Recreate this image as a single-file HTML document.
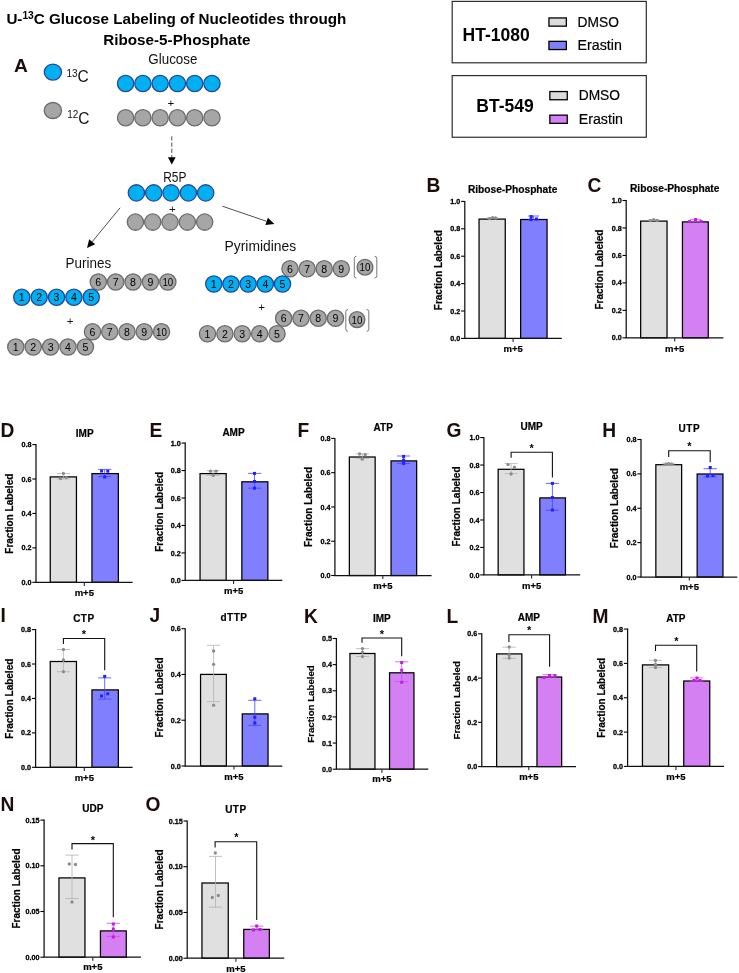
<!DOCTYPE html>
<html lang="en"><head><meta charset="utf-8"><title>U-13C Glucose Labeling of Nucleotides through Ribose-5-Phosphate</title>
<style>html,body{margin:0;padding:0;background:#fff}svg{display:block;will-change:transform}text{font-family:"Liberation Sans", Arial, sans-serif}</style></head><body>
<svg width="739" height="973" viewBox="0 0 739 973">
<rect width="739" height="973" fill="#ffffff"/>
<g id="panelA">
<text x="6.4" y="23.5" font-size="14.9" font-weight="bold" fill="#000" textLength="340" lengthAdjust="spacingAndGlyphs">U-<tspan font-size="10" dy="-4.3">13</tspan><tspan dy="4.3">C Glucose Labeling of Nucleotides through</tspan></text>
<text x="103.2" y="44.9" font-size="14.9" font-weight="bold" fill="#000" textLength="147.4" lengthAdjust="spacingAndGlyphs">Ribose-5-Phosphate</text>
<text x="14" y="71.6" font-size="18.4" font-weight="bold" text-anchor="start" fill="#1d0c0c" textLength="13.86" lengthAdjust="spacingAndGlyphs">A</text>
<ellipse cx="52.9" cy="72.1" rx="8.65" ry="8.0" fill="#00b0f0" stroke="#27479c" stroke-width="1.3"/>
<ellipse cx="52.9" cy="110.5" rx="8.65" ry="8.0" fill="#a6a6a6" stroke="#6c6c6c" stroke-width="1.3"/>
<text x="66.4" y="82.1" font-size="16.8" fill="#111111" textLength="22.3" lengthAdjust="spacingAndGlyphs"><tspan font-size="10.8" dy="-5.1">13</tspan><tspan dy="5.1">C</tspan></text>
<text x="67.2" y="123.5" font-size="16.8" fill="#111111" textLength="22.3" lengthAdjust="spacingAndGlyphs"><tspan font-size="10.8" dy="-5.1">12</tspan><tspan dy="5.1">C</tspan></text>
<text x="148.3" y="64.2" font-size="15" fill="#111111" textLength="49.2" lengthAdjust="spacingAndGlyphs">Glucose</text>
<circle cx="125.6" cy="83.5" r="8.15" fill="#00b0f0" stroke="#27479c" stroke-width="1.3"/>
<circle cx="142.87" cy="83.5" r="8.15" fill="#00b0f0" stroke="#27479c" stroke-width="1.3"/>
<circle cx="160.14" cy="83.5" r="8.15" fill="#00b0f0" stroke="#27479c" stroke-width="1.3"/>
<circle cx="177.41" cy="83.5" r="8.15" fill="#00b0f0" stroke="#27479c" stroke-width="1.3"/>
<circle cx="194.68" cy="83.5" r="8.15" fill="#00b0f0" stroke="#27479c" stroke-width="1.3"/>
<circle cx="211.95" cy="83.5" r="8.15" fill="#00b0f0" stroke="#27479c" stroke-width="1.3"/>
<text x="170.8" y="106.5" font-size="11.5" font-weight="normal" text-anchor="middle" fill="#111111" >+</text>
<circle cx="125.6" cy="117.8" r="8.15" fill="#a6a6a6" stroke="#6c6c6c" stroke-width="1.3"/>
<circle cx="142.87" cy="117.8" r="8.15" fill="#a6a6a6" stroke="#6c6c6c" stroke-width="1.3"/>
<circle cx="160.14" cy="117.8" r="8.15" fill="#a6a6a6" stroke="#6c6c6c" stroke-width="1.3"/>
<circle cx="177.41" cy="117.8" r="8.15" fill="#a6a6a6" stroke="#6c6c6c" stroke-width="1.3"/>
<circle cx="194.68" cy="117.8" r="8.15" fill="#a6a6a6" stroke="#6c6c6c" stroke-width="1.3"/>
<circle cx="211.95" cy="117.8" r="8.15" fill="#a6a6a6" stroke="#6c6c6c" stroke-width="1.3"/>
<path d="M171.8 136.3V157.6" stroke="#222" stroke-width="0.8" stroke-dasharray="4.2 2" fill="none"/>
<path d="M167.9 157.2H175.7L171.8 164.6Z" fill="#000"/>
<text x="163.2" y="181.5" font-size="15" fill="#111111" textLength="23.2" lengthAdjust="spacingAndGlyphs">R5P</text>
<circle cx="136.4" cy="192.9" r="8.15" fill="#00b0f0" stroke="#27479c" stroke-width="1.3"/>
<circle cx="153.72" cy="192.9" r="8.15" fill="#00b0f0" stroke="#27479c" stroke-width="1.3"/>
<circle cx="171.04" cy="192.9" r="8.15" fill="#00b0f0" stroke="#27479c" stroke-width="1.3"/>
<circle cx="188.36" cy="192.9" r="8.15" fill="#00b0f0" stroke="#27479c" stroke-width="1.3"/>
<circle cx="205.68" cy="192.9" r="8.15" fill="#00b0f0" stroke="#27479c" stroke-width="1.3"/>
<text x="172.4" y="212.7" font-size="11.5" font-weight="normal" text-anchor="middle" fill="#111111" >+</text>
<circle cx="135.4" cy="222.1" r="8.15" fill="#a6a6a6" stroke="#6c6c6c" stroke-width="1.3"/>
<circle cx="152.72" cy="222.1" r="8.15" fill="#a6a6a6" stroke="#6c6c6c" stroke-width="1.3"/>
<circle cx="170.04" cy="222.1" r="8.15" fill="#a6a6a6" stroke="#6c6c6c" stroke-width="1.3"/>
<circle cx="187.36" cy="222.1" r="8.15" fill="#a6a6a6" stroke="#6c6c6c" stroke-width="1.3"/>
<circle cx="204.68" cy="222.1" r="8.15" fill="#a6a6a6" stroke="#6c6c6c" stroke-width="1.3"/>
<path d="M120.1 207.8L92.2 241.76" stroke="#222" stroke-width="0.8" fill="none"/>
<path d="M87 248.1L89.19 239.29L95.22 244.24Z" fill="#000"/>
<path d="M222.4 206.2L266.64 221.34" stroke="#222" stroke-width="0.8" fill="none"/>
<path d="M274.4 224L265.38 225.03L267.9 217.65Z" fill="#000"/>
<text x="65.6" y="268.2" font-size="15" fill="#111111" textLength="45.6" lengthAdjust="spacingAndGlyphs">Purines</text>
<circle cx="98.3" cy="282" r="8.15" fill="#a6a6a6" stroke="#6c6c6c" stroke-width="1.3"/>
<text x="98.3" y="286" font-size="11.3" font-weight="normal" text-anchor="middle" fill="#000" textLength="5.9" lengthAdjust="spacingAndGlyphs">6</text>
<circle cx="115.68" cy="282" r="8.15" fill="#a6a6a6" stroke="#6c6c6c" stroke-width="1.3"/>
<text x="115.68" y="286" font-size="11.3" font-weight="normal" text-anchor="middle" fill="#000" textLength="5.9" lengthAdjust="spacingAndGlyphs">7</text>
<circle cx="133.06" cy="282" r="8.15" fill="#a6a6a6" stroke="#6c6c6c" stroke-width="1.3"/>
<text x="133.06" y="286" font-size="11.3" font-weight="normal" text-anchor="middle" fill="#000" textLength="5.9" lengthAdjust="spacingAndGlyphs">8</text>
<circle cx="150.44" cy="282" r="8.15" fill="#a6a6a6" stroke="#6c6c6c" stroke-width="1.3"/>
<text x="150.44" y="286" font-size="11.3" font-weight="normal" text-anchor="middle" fill="#000" textLength="5.9" lengthAdjust="spacingAndGlyphs">9</text>
<circle cx="167.82" cy="282" r="8.15" fill="#a6a6a6" stroke="#6c6c6c" stroke-width="1.3"/>
<text x="167.82" y="286" font-size="11.3" font-weight="normal" text-anchor="middle" fill="#000" textLength="10.8" lengthAdjust="spacingAndGlyphs">10</text>
<circle cx="21.8" cy="297.3" r="8.15" fill="#00b0f0" stroke="#27479c" stroke-width="1.3"/>
<text x="21.8" y="301.3" font-size="11.3" font-weight="normal" text-anchor="middle" fill="#000" textLength="5.9" lengthAdjust="spacingAndGlyphs">1</text>
<circle cx="39.16" cy="297.3" r="8.15" fill="#00b0f0" stroke="#27479c" stroke-width="1.3"/>
<text x="39.16" y="301.3" font-size="11.3" font-weight="normal" text-anchor="middle" fill="#000" textLength="5.9" lengthAdjust="spacingAndGlyphs">2</text>
<circle cx="56.52" cy="297.3" r="8.15" fill="#00b0f0" stroke="#27479c" stroke-width="1.3"/>
<text x="56.52" y="301.3" font-size="11.3" font-weight="normal" text-anchor="middle" fill="#000" textLength="5.9" lengthAdjust="spacingAndGlyphs">3</text>
<circle cx="73.88" cy="297.3" r="8.15" fill="#00b0f0" stroke="#27479c" stroke-width="1.3"/>
<text x="73.88" y="301.3" font-size="11.3" font-weight="normal" text-anchor="middle" fill="#000" textLength="5.9" lengthAdjust="spacingAndGlyphs">4</text>
<circle cx="91.24" cy="297.3" r="8.15" fill="#00b0f0" stroke="#27479c" stroke-width="1.3"/>
<text x="91.24" y="301.3" font-size="11.3" font-weight="normal" text-anchor="middle" fill="#000" textLength="5.9" lengthAdjust="spacingAndGlyphs">5</text>
<text x="70" y="324.8" font-size="11.5" font-weight="normal" text-anchor="middle" fill="#111111" >+</text>
<circle cx="92.5" cy="331.8" r="8.15" fill="#a6a6a6" stroke="#6c6c6c" stroke-width="1.3"/>
<text x="92.5" y="335.8" font-size="11.3" font-weight="normal" text-anchor="middle" fill="#000" textLength="5.9" lengthAdjust="spacingAndGlyphs">6</text>
<circle cx="109.75" cy="331.8" r="8.15" fill="#a6a6a6" stroke="#6c6c6c" stroke-width="1.3"/>
<text x="109.75" y="335.8" font-size="11.3" font-weight="normal" text-anchor="middle" fill="#000" textLength="5.9" lengthAdjust="spacingAndGlyphs">7</text>
<circle cx="127" cy="331.8" r="8.15" fill="#a6a6a6" stroke="#6c6c6c" stroke-width="1.3"/>
<text x="127" y="335.8" font-size="11.3" font-weight="normal" text-anchor="middle" fill="#000" textLength="5.9" lengthAdjust="spacingAndGlyphs">8</text>
<circle cx="144.25" cy="331.8" r="8.15" fill="#a6a6a6" stroke="#6c6c6c" stroke-width="1.3"/>
<text x="144.25" y="335.8" font-size="11.3" font-weight="normal" text-anchor="middle" fill="#000" textLength="5.9" lengthAdjust="spacingAndGlyphs">9</text>
<circle cx="161.5" cy="331.8" r="8.15" fill="#a6a6a6" stroke="#6c6c6c" stroke-width="1.3"/>
<text x="161.5" y="335.8" font-size="11.3" font-weight="normal" text-anchor="middle" fill="#000" textLength="10.8" lengthAdjust="spacingAndGlyphs">10</text>
<circle cx="15.8" cy="347" r="8.15" fill="#a6a6a6" stroke="#6c6c6c" stroke-width="1.3"/>
<text x="15.8" y="351" font-size="11.3" font-weight="normal" text-anchor="middle" fill="#000" textLength="5.9" lengthAdjust="spacingAndGlyphs">1</text>
<circle cx="33.2" cy="347" r="8.15" fill="#a6a6a6" stroke="#6c6c6c" stroke-width="1.3"/>
<text x="33.2" y="351" font-size="11.3" font-weight="normal" text-anchor="middle" fill="#000" textLength="5.9" lengthAdjust="spacingAndGlyphs">2</text>
<circle cx="50.6" cy="347" r="8.15" fill="#a6a6a6" stroke="#6c6c6c" stroke-width="1.3"/>
<text x="50.6" y="351" font-size="11.3" font-weight="normal" text-anchor="middle" fill="#000" textLength="5.9" lengthAdjust="spacingAndGlyphs">3</text>
<circle cx="68" cy="347" r="8.15" fill="#a6a6a6" stroke="#6c6c6c" stroke-width="1.3"/>
<text x="68" y="351" font-size="11.3" font-weight="normal" text-anchor="middle" fill="#000" textLength="5.9" lengthAdjust="spacingAndGlyphs">4</text>
<circle cx="85.4" cy="347" r="8.15" fill="#a6a6a6" stroke="#6c6c6c" stroke-width="1.3"/>
<text x="85.4" y="351" font-size="11.3" font-weight="normal" text-anchor="middle" fill="#000" textLength="5.9" lengthAdjust="spacingAndGlyphs">5</text>
<text x="224.6" y="250.8" font-size="15" fill="#111111" textLength="71.6" lengthAdjust="spacingAndGlyphs">Pyrimidines</text>
<circle cx="290" cy="268.8" r="8.15" fill="#a6a6a6" stroke="#6c6c6c" stroke-width="1.3"/>
<text x="290" y="272.8" font-size="11.3" font-weight="normal" text-anchor="middle" fill="#000" textLength="5.9" lengthAdjust="spacingAndGlyphs">6</text>
<circle cx="307.1" cy="268.8" r="8.15" fill="#a6a6a6" stroke="#6c6c6c" stroke-width="1.3"/>
<text x="307.1" y="272.8" font-size="11.3" font-weight="normal" text-anchor="middle" fill="#000" textLength="5.9" lengthAdjust="spacingAndGlyphs">7</text>
<circle cx="324.2" cy="268.8" r="8.15" fill="#a6a6a6" stroke="#6c6c6c" stroke-width="1.3"/>
<text x="324.2" y="272.8" font-size="11.3" font-weight="normal" text-anchor="middle" fill="#000" textLength="5.9" lengthAdjust="spacingAndGlyphs">8</text>
<circle cx="341.3" cy="268.8" r="8.15" fill="#a6a6a6" stroke="#6c6c6c" stroke-width="1.3"/>
<text x="341.3" y="272.8" font-size="11.3" font-weight="normal" text-anchor="middle" fill="#000" textLength="5.9" lengthAdjust="spacingAndGlyphs">9</text>
<circle cx="365" cy="267.2" r="7.9" fill="#a6a6a6" stroke="#6c6c6c" stroke-width="1.3"/>
<text x="365" y="271.2" font-size="11.3" font-weight="normal" text-anchor="middle" fill="#000" textLength="10.8" lengthAdjust="spacingAndGlyphs">10</text>
<circle cx="213.8" cy="284" r="8.15" fill="#00b0f0" stroke="#27479c" stroke-width="1.3"/>
<text x="213.8" y="288" font-size="11.3" font-weight="normal" text-anchor="middle" fill="#000" textLength="5.9" lengthAdjust="spacingAndGlyphs">1</text>
<circle cx="230.98" cy="284" r="8.15" fill="#00b0f0" stroke="#27479c" stroke-width="1.3"/>
<text x="230.98" y="288" font-size="11.3" font-weight="normal" text-anchor="middle" fill="#000" textLength="5.9" lengthAdjust="spacingAndGlyphs">2</text>
<circle cx="248.16" cy="284" r="8.15" fill="#00b0f0" stroke="#27479c" stroke-width="1.3"/>
<text x="248.16" y="288" font-size="11.3" font-weight="normal" text-anchor="middle" fill="#000" textLength="5.9" lengthAdjust="spacingAndGlyphs">3</text>
<circle cx="265.34" cy="284" r="8.15" fill="#00b0f0" stroke="#27479c" stroke-width="1.3"/>
<text x="265.34" y="288" font-size="11.3" font-weight="normal" text-anchor="middle" fill="#000" textLength="5.9" lengthAdjust="spacingAndGlyphs">4</text>
<circle cx="282.52" cy="284" r="8.15" fill="#00b0f0" stroke="#27479c" stroke-width="1.3"/>
<text x="282.52" y="288" font-size="11.3" font-weight="normal" text-anchor="middle" fill="#000" textLength="5.9" lengthAdjust="spacingAndGlyphs">5</text>
<path d="M356.5 256.3Q354.3 256.3 354.3 258.5V275.8Q354.3 278 356.5 278" stroke="#555" stroke-width="0.8" fill="none"/>
<path d="M374.6 256.3Q376.8 256.3 376.8 258.5V275.8Q376.8 278 374.6 278" stroke="#555" stroke-width="0.8" fill="none"/>
<text x="261.5" y="311.3" font-size="11.5" font-weight="normal" text-anchor="middle" fill="#111111" >+</text>
<circle cx="283.7" cy="318.3" r="8.15" fill="#a6a6a6" stroke="#6c6c6c" stroke-width="1.3"/>
<text x="283.7" y="322.3" font-size="11.3" font-weight="normal" text-anchor="middle" fill="#000" textLength="5.9" lengthAdjust="spacingAndGlyphs">6</text>
<circle cx="300.95" cy="318.3" r="8.15" fill="#a6a6a6" stroke="#6c6c6c" stroke-width="1.3"/>
<text x="300.95" y="322.3" font-size="11.3" font-weight="normal" text-anchor="middle" fill="#000" textLength="5.9" lengthAdjust="spacingAndGlyphs">7</text>
<circle cx="318.2" cy="318.3" r="8.15" fill="#a6a6a6" stroke="#6c6c6c" stroke-width="1.3"/>
<text x="318.2" y="322.3" font-size="11.3" font-weight="normal" text-anchor="middle" fill="#000" textLength="5.9" lengthAdjust="spacingAndGlyphs">8</text>
<circle cx="335.45" cy="318.3" r="8.15" fill="#a6a6a6" stroke="#6c6c6c" stroke-width="1.3"/>
<text x="335.45" y="322.3" font-size="11.3" font-weight="normal" text-anchor="middle" fill="#000" textLength="5.9" lengthAdjust="spacingAndGlyphs">9</text>
<circle cx="357" cy="319.6" r="7.9" fill="#a6a6a6" stroke="#6c6c6c" stroke-width="1.3"/>
<text x="357" y="323.6" font-size="11.3" font-weight="normal" text-anchor="middle" fill="#000" textLength="10.8" lengthAdjust="spacingAndGlyphs">10</text>
<circle cx="207.5" cy="333.8" r="8.15" fill="#a6a6a6" stroke="#6c6c6c" stroke-width="1.3"/>
<text x="207.5" y="337.8" font-size="11.3" font-weight="normal" text-anchor="middle" fill="#000" textLength="5.9" lengthAdjust="spacingAndGlyphs">1</text>
<circle cx="224.88" cy="333.8" r="8.15" fill="#a6a6a6" stroke="#6c6c6c" stroke-width="1.3"/>
<text x="224.88" y="337.8" font-size="11.3" font-weight="normal" text-anchor="middle" fill="#000" textLength="5.9" lengthAdjust="spacingAndGlyphs">2</text>
<circle cx="242.26" cy="333.8" r="8.15" fill="#a6a6a6" stroke="#6c6c6c" stroke-width="1.3"/>
<text x="242.26" y="337.8" font-size="11.3" font-weight="normal" text-anchor="middle" fill="#000" textLength="5.9" lengthAdjust="spacingAndGlyphs">3</text>
<circle cx="259.64" cy="333.8" r="8.15" fill="#a6a6a6" stroke="#6c6c6c" stroke-width="1.3"/>
<text x="259.64" y="337.8" font-size="11.3" font-weight="normal" text-anchor="middle" fill="#000" textLength="5.9" lengthAdjust="spacingAndGlyphs">4</text>
<circle cx="277.02" cy="333.8" r="8.15" fill="#a6a6a6" stroke="#6c6c6c" stroke-width="1.3"/>
<text x="277.02" y="337.8" font-size="11.3" font-weight="normal" text-anchor="middle" fill="#000" textLength="5.9" lengthAdjust="spacingAndGlyphs">5</text>
<path d="M348 309.5Q345.8 309.5 345.8 311.7V329.1Q345.8 331.3 348 331.3" stroke="#555" stroke-width="0.8" fill="none"/>
<path d="M366.6 309.5Q368.8 309.5 368.8 311.7V329.1Q368.8 331.3 366.6 331.3" stroke="#555" stroke-width="0.8" fill="none"/>
</g>
<g id="legend">
<rect x="452.2" y="1.4" width="194.1" height="61.4" fill="#fff" stroke="#2e2e2e" stroke-width="1.2"/>
<text x="462.6" y="40.6" font-size="17.5" font-weight="bold" text-anchor="start" fill="#000" >HT-1080</text>
<rect x="548.95" y="17.95" width="17.4" height="8.2" fill="#dcdcdc" stroke="#000" stroke-width="1.3"/>
<rect x="548.95" y="41.35" width="17.4" height="8.2" fill="#8080ff" stroke="#000" stroke-width="1.3"/>
<text x="577.6" y="26.9" font-size="15.1" font-weight="normal" text-anchor="start" fill="#000" textLength="41.3" lengthAdjust="spacingAndGlyphs" stroke="#000" stroke-width="0.2">DMSO</text>
<text x="577.6" y="50.3" font-size="15.1" font-weight="normal" text-anchor="start" fill="#000" textLength="44.3" lengthAdjust="spacingAndGlyphs" stroke="#000" stroke-width="0.2">Erastin</text>
<rect x="452.2" y="75.6" width="194.1" height="61.65" fill="#fff" stroke="#2e2e2e" stroke-width="1.2"/>
<text x="476.3" y="112.2" font-size="17.5" font-weight="bold" text-anchor="start" fill="#000" >BT-549</text>
<rect x="549.85" y="91.55" width="17.4" height="8.2" fill="#dcdcdc" stroke="#000" stroke-width="1.3"/>
<rect x="549.85" y="115.15" width="17.4" height="8.2" fill="#d580f2" stroke="#000" stroke-width="1.3"/>
<text x="578.7" y="100.3" font-size="15.1" font-weight="normal" text-anchor="start" fill="#000" textLength="41.3" lengthAdjust="spacingAndGlyphs" stroke="#000" stroke-width="0.2">DMSO</text>
<text x="578.7" y="124.2" font-size="15.1" font-weight="normal" text-anchor="start" fill="#000" textLength="44.3" lengthAdjust="spacingAndGlyphs" stroke="#000" stroke-width="0.2">Erastin</text>
</g>
<g>
<text x="426.5" y="192" font-size="19.7" font-weight="bold" text-anchor="start" fill="#1d0c0c" textLength="13.86" lengthAdjust="spacingAndGlyphs">B</text>
<text x="512.6" y="192.7" font-size="10.2" font-weight="bold" text-anchor="middle" fill="#000" stroke="#000" stroke-width="0.2" >Ribose-Phosphate</text>
<rect x="479.05" y="219.1" width="26.2" height="119.3" fill="#e0e0e0" stroke="#000" stroke-width="1.25"/>
<rect x="520.65" y="219.5" width="26.4" height="118.9" fill="#8080ff" stroke="#000" stroke-width="1.25"/>
<path d="M492.5 217.6V218.6M487 217.6H498M487 218.6H498" stroke="#b2b2b2" stroke-width="0.8" fill="none"/>
<path d="M533.6 216V219.8M528.1 216H539.1M528.1 219.8H539.1" stroke="#4444ff" stroke-width="0.8" fill="none"/>
<circle cx="489.5" cy="218.6" r="1.65" fill="#8b8b90"/>
<circle cx="492.5" cy="217.6" r="1.65" fill="#8b8b90"/>
<circle cx="495.5" cy="218" r="1.65" fill="#8b8b90"/>
<rect x="529.5" y="218.1" width="3" height="3" fill="#1f1fff"/>
<rect x="529.7" y="215.1" width="3" height="3" fill="#1f1fff"/>
<rect x="535" y="217.5" width="3" height="3" fill="#1f1fff"/>
<path d="M464.8 200.9V338.4H561.8" stroke="#111" stroke-width="1.25" fill="none"/>
<path d="M461.1 338.4H464.8" stroke="#000" stroke-width="1.1"/>
<text x="460.3" y="341" font-size="7.2" font-weight="bold" text-anchor="end" fill="#000" stroke="#000" stroke-width="0.28">0.0</text>
<path d="M461.1 311H464.8" stroke="#000" stroke-width="1.1"/>
<text x="460.3" y="313.6" font-size="7.2" font-weight="bold" text-anchor="end" fill="#000" stroke="#000" stroke-width="0.28">0.2</text>
<path d="M461.1 283.6H464.8" stroke="#000" stroke-width="1.1"/>
<text x="460.3" y="286.2" font-size="7.2" font-weight="bold" text-anchor="end" fill="#000" stroke="#000" stroke-width="0.28">0.4</text>
<path d="M461.1 256.2H464.8" stroke="#000" stroke-width="1.1"/>
<text x="460.3" y="258.8" font-size="7.2" font-weight="bold" text-anchor="end" fill="#000" stroke="#000" stroke-width="0.28">0.6</text>
<path d="M461.1 228.8H464.8" stroke="#000" stroke-width="1.1"/>
<text x="460.3" y="231.4" font-size="7.2" font-weight="bold" text-anchor="end" fill="#000" stroke="#000" stroke-width="0.28">0.8</text>
<path d="M461.1 201.4H464.8" stroke="#000" stroke-width="1.1"/>
<text x="460.3" y="204" font-size="7.2" font-weight="bold" text-anchor="end" fill="#000" stroke="#000" stroke-width="0.28">1.0</text>
<path d="M513.1 338.4V342" stroke="#262626" stroke-width="1.1"/>
<text x="513.1" y="352" font-size="9.5" font-weight="bold" text-anchor="middle" fill="#000" stroke="#000" stroke-width="0.2">m+5</text>
<text transform="translate(442 270.2) rotate(-90)" font-size="10" font-weight="bold" text-anchor="middle" fill="#000" stroke="#000" stroke-width="0.2">Fraction Labeled</text>
</g>
<g>
<text x="587.5" y="192" font-size="19.7" font-weight="bold" text-anchor="start" fill="#1d0c0c" textLength="13.86" lengthAdjust="spacingAndGlyphs">C</text>
<text x="674.7" y="192" font-size="10.2" font-weight="bold" text-anchor="middle" fill="#000" stroke="#000" stroke-width="0.2" >Ribose-Phosphate</text>
<rect x="640.65" y="221.1" width="26.4" height="116.7" fill="#e0e0e0" stroke="#000" stroke-width="1.25"/>
<rect x="682.45" y="221.9" width="25.8" height="115.9" fill="#d580f2" stroke="#000" stroke-width="1.25"/>
<path d="M653.7 219.6V220.6M648.2 219.6H659.2M648.2 220.6H659.2" stroke="#b2b2b2" stroke-width="0.8" fill="none"/>
<path d="M695.3 219.4V221.6M689.8 219.4H700.8M689.8 221.6H700.8" stroke="#d04be8" stroke-width="0.8" fill="none"/>
<circle cx="650.5" cy="220.6" r="1.65" fill="#8b8b90"/>
<circle cx="653.7" cy="219.6" r="1.65" fill="#8b8b90"/>
<circle cx="657" cy="220.4" r="1.65" fill="#8b8b90"/>
<rect x="688" y="220.1" width="3" height="3" fill="#c21be0"/>
<rect x="694" y="218.1" width="3" height="3" fill="#c21be0"/>
<rect x="699.5" y="219.9" width="3" height="3" fill="#c21be0"/>
<path d="M626.2 200V337.8H723.4" stroke="#111" stroke-width="1.25" fill="none"/>
<path d="M622.5 337.8H626.2" stroke="#000" stroke-width="1.1"/>
<text x="621.7" y="340.4" font-size="7.2" font-weight="bold" text-anchor="end" fill="#000" stroke="#000" stroke-width="0.28">0.0</text>
<path d="M622.5 310.34H626.2" stroke="#000" stroke-width="1.1"/>
<text x="621.7" y="312.94" font-size="7.2" font-weight="bold" text-anchor="end" fill="#000" stroke="#000" stroke-width="0.28">0.2</text>
<path d="M622.5 282.88H626.2" stroke="#000" stroke-width="1.1"/>
<text x="621.7" y="285.48" font-size="7.2" font-weight="bold" text-anchor="end" fill="#000" stroke="#000" stroke-width="0.28">0.4</text>
<path d="M622.5 255.42H626.2" stroke="#000" stroke-width="1.1"/>
<text x="621.7" y="258.02" font-size="7.2" font-weight="bold" text-anchor="end" fill="#000" stroke="#000" stroke-width="0.28">0.6</text>
<path d="M622.5 227.96H626.2" stroke="#000" stroke-width="1.1"/>
<text x="621.7" y="230.56" font-size="7.2" font-weight="bold" text-anchor="end" fill="#000" stroke="#000" stroke-width="0.28">0.8</text>
<path d="M622.5 200.5H626.2" stroke="#000" stroke-width="1.1"/>
<text x="621.7" y="203.1" font-size="7.2" font-weight="bold" text-anchor="end" fill="#000" stroke="#000" stroke-width="0.28">1.0</text>
<path d="M674.7 337.8V341.4" stroke="#262626" stroke-width="1.1"/>
<text x="674.7" y="351.6" font-size="9.5" font-weight="bold" text-anchor="middle" fill="#000" stroke="#000" stroke-width="0.2">m+5</text>
<text transform="translate(603.2 269.6) rotate(-90)" font-size="10" font-weight="bold" text-anchor="middle" fill="#000" stroke="#000" stroke-width="0.2">Fraction Labeled</text>
</g>
<g>
<text x="0.55" y="437" font-size="19.7" font-weight="bold" text-anchor="start" fill="#1d0c0c" textLength="13.86" lengthAdjust="spacingAndGlyphs">D</text>
<text x="84.7" y="437.2" font-size="10" font-weight="bold" text-anchor="middle" fill="#000" stroke="#000" stroke-width="0.2" >IMP</text>
<rect x="50.25" y="476.9" width="26.2" height="105.4" fill="#e0e0e0" stroke="#000" stroke-width="1.25"/>
<rect x="91.95" y="473.6" width="26.4" height="108.7" fill="#8080ff" stroke="#000" stroke-width="1.25"/>
<path d="M63.4 473.6V479M56.8 473.6H70M56.8 479H70" stroke="#b2b2b2" stroke-width="0.8" fill="none"/>
<path d="M104.7 469.4V476.6M98.1 469.4H111.3M98.1 476.6H111.3" stroke="#4444ff" stroke-width="0.8" fill="none"/>
<circle cx="63.4" cy="473.4" r="1.65" fill="#8b8b90"/>
<circle cx="60.6" cy="478.6" r="1.65" fill="#8b8b90"/>
<circle cx="66.2" cy="477.6" r="1.65" fill="#8b8b90"/>
<rect x="100.1" y="469.5" width="3" height="3" fill="#1f1fff"/>
<rect x="106.3" y="469.7" width="3" height="3" fill="#1f1fff"/>
<rect x="103.2" y="475.5" width="3" height="3" fill="#1f1fff"/>
<path d="M36 444.1V582.3H132.6" stroke="#111" stroke-width="1.25" fill="none"/>
<path d="M32.3 582.3H36" stroke="#000" stroke-width="1.1"/>
<text x="31.5" y="584.9" font-size="7.2" font-weight="bold" text-anchor="end" fill="#000" stroke="#000" stroke-width="0.28">0.0</text>
<path d="M32.3 547.88H36" stroke="#000" stroke-width="1.1"/>
<text x="31.5" y="550.48" font-size="7.2" font-weight="bold" text-anchor="end" fill="#000" stroke="#000" stroke-width="0.28">0.2</text>
<path d="M32.3 513.45H36" stroke="#000" stroke-width="1.1"/>
<text x="31.5" y="516.05" font-size="7.2" font-weight="bold" text-anchor="end" fill="#000" stroke="#000" stroke-width="0.28">0.4</text>
<path d="M32.3 479.02H36" stroke="#000" stroke-width="1.1"/>
<text x="31.5" y="481.62" font-size="7.2" font-weight="bold" text-anchor="end" fill="#000" stroke="#000" stroke-width="0.28">0.6</text>
<path d="M32.3 444.6H36" stroke="#000" stroke-width="1.1"/>
<text x="31.5" y="447.2" font-size="7.2" font-weight="bold" text-anchor="end" fill="#000" stroke="#000" stroke-width="0.28">0.8</text>
<path d="M84.3 582.3V585.9" stroke="#262626" stroke-width="1.1"/>
<text x="84.3" y="595.6" font-size="9.5" font-weight="bold" text-anchor="middle" fill="#000" stroke="#000" stroke-width="0.2">m+5</text>
<text transform="translate(12.5 513.7) rotate(-90)" font-size="10" font-weight="bold" text-anchor="middle" fill="#000" stroke="#000" stroke-width="0.2">Fraction Labeled</text>
</g>
<g>
<text x="149.45" y="437" font-size="19.7" font-weight="bold" text-anchor="start" fill="#1d0c0c" textLength="12.81" lengthAdjust="spacingAndGlyphs">E</text>
<text x="233.5" y="435.9" font-size="10" font-weight="bold" text-anchor="middle" fill="#000" stroke="#000" stroke-width="0.2" >AMP</text>
<rect x="200.05" y="473.6" width="26.1" height="106.8" fill="#e0e0e0" stroke="#000" stroke-width="1.25"/>
<rect x="241.85" y="481.8" width="26" height="98.6" fill="#8080ff" stroke="#000" stroke-width="1.25"/>
<path d="M213.2 470.6V475.3M206.6 470.6H219.8M206.6 475.3H219.8" stroke="#b2b2b2" stroke-width="0.8" fill="none"/>
<path d="M254.5 473.4V488.2M247.9 473.4H261.1M247.9 488.2H261.1" stroke="#4444ff" stroke-width="0.8" fill="none"/>
<circle cx="210.5" cy="471.2" r="1.65" fill="#8b8b90"/>
<circle cx="216" cy="471.2" r="1.65" fill="#8b8b90"/>
<circle cx="213.2" cy="475.4" r="1.65" fill="#8b8b90"/>
<rect x="253" y="471.9" width="3" height="3" fill="#1f1fff"/>
<rect x="253" y="480" width="3" height="3" fill="#1f1fff"/>
<rect x="253" y="486.7" width="3" height="3" fill="#1f1fff"/>
<path d="M185.2 442.6V580.4H282.3" stroke="#111" stroke-width="1.25" fill="none"/>
<path d="M181.5 580.4H185.2" stroke="#000" stroke-width="1.1"/>
<text x="180.7" y="583" font-size="7.2" font-weight="bold" text-anchor="end" fill="#000" stroke="#000" stroke-width="0.28">0.0</text>
<path d="M181.5 552.94H185.2" stroke="#000" stroke-width="1.1"/>
<text x="180.7" y="555.54" font-size="7.2" font-weight="bold" text-anchor="end" fill="#000" stroke="#000" stroke-width="0.28">0.2</text>
<path d="M181.5 525.48H185.2" stroke="#000" stroke-width="1.1"/>
<text x="180.7" y="528.08" font-size="7.2" font-weight="bold" text-anchor="end" fill="#000" stroke="#000" stroke-width="0.28">0.4</text>
<path d="M181.5 498.02H185.2" stroke="#000" stroke-width="1.1"/>
<text x="180.7" y="500.62" font-size="7.2" font-weight="bold" text-anchor="end" fill="#000" stroke="#000" stroke-width="0.28">0.6</text>
<path d="M181.5 470.56H185.2" stroke="#000" stroke-width="1.1"/>
<text x="180.7" y="473.16" font-size="7.2" font-weight="bold" text-anchor="end" fill="#000" stroke="#000" stroke-width="0.28">0.8</text>
<path d="M181.5 443.1H185.2" stroke="#000" stroke-width="1.1"/>
<text x="180.7" y="445.7" font-size="7.2" font-weight="bold" text-anchor="end" fill="#000" stroke="#000" stroke-width="0.28">1.0</text>
<path d="M233.6 580.4V584" stroke="#262626" stroke-width="1.1"/>
<text x="233.6" y="594.2" font-size="9.5" font-weight="bold" text-anchor="middle" fill="#000" stroke="#000" stroke-width="0.2">m+5</text>
<text transform="translate(162.8 511.8) rotate(-90)" font-size="10" font-weight="bold" text-anchor="middle" fill="#000" stroke="#000" stroke-width="0.2">Fraction Labeled</text>
</g>
<g>
<text x="297.4" y="437" font-size="19.7" font-weight="bold" text-anchor="start" fill="#1d0c0c" textLength="11.73" lengthAdjust="spacingAndGlyphs">F</text>
<text x="383.2" y="430.8" font-size="10" font-weight="bold" text-anchor="middle" fill="#000" stroke="#000" stroke-width="0.2" >ATP</text>
<rect x="349.35" y="457" width="25.8" height="118.5" fill="#e0e0e0" stroke="#000" stroke-width="1.25"/>
<rect x="391.05" y="460.9" width="25.6" height="114.6" fill="#8080ff" stroke="#000" stroke-width="1.25"/>
<path d="M362.3 453.7V458.4M355.7 453.7H368.9M355.7 458.4H368.9" stroke="#b2b2b2" stroke-width="0.8" fill="none"/>
<path d="M403.6 456V463.6M397 456H410.2M397 463.6H410.2" stroke="#4444ff" stroke-width="0.8" fill="none"/>
<circle cx="359.6" cy="454" r="1.65" fill="#8b8b90"/>
<circle cx="365.2" cy="454.6" r="1.65" fill="#8b8b90"/>
<circle cx="362.3" cy="459.2" r="1.65" fill="#8b8b90"/>
<rect x="402.1" y="454.9" width="3" height="3" fill="#1f1fff"/>
<rect x="402.1" y="458.7" width="3" height="3" fill="#1f1fff"/>
<rect x="402.1" y="461.9" width="3" height="3" fill="#1f1fff"/>
<path d="M334.9 437.9V575.5H431.6" stroke="#111" stroke-width="1.25" fill="none"/>
<path d="M331.2 575.5H334.9" stroke="#000" stroke-width="1.1"/>
<text x="330.4" y="578.1" font-size="7.2" font-weight="bold" text-anchor="end" fill="#000" stroke="#000" stroke-width="0.28">0.0</text>
<path d="M331.2 541.23H334.9" stroke="#000" stroke-width="1.1"/>
<text x="330.4" y="543.83" font-size="7.2" font-weight="bold" text-anchor="end" fill="#000" stroke="#000" stroke-width="0.28">0.2</text>
<path d="M331.2 506.95H334.9" stroke="#000" stroke-width="1.1"/>
<text x="330.4" y="509.55" font-size="7.2" font-weight="bold" text-anchor="end" fill="#000" stroke="#000" stroke-width="0.28">0.4</text>
<path d="M331.2 472.67H334.9" stroke="#000" stroke-width="1.1"/>
<text x="330.4" y="475.27" font-size="7.2" font-weight="bold" text-anchor="end" fill="#000" stroke="#000" stroke-width="0.28">0.6</text>
<path d="M331.2 438.4H334.9" stroke="#000" stroke-width="1.1"/>
<text x="330.4" y="441" font-size="7.2" font-weight="bold" text-anchor="end" fill="#000" stroke="#000" stroke-width="0.28">0.8</text>
<path d="M382.8 575.5V579.1" stroke="#262626" stroke-width="1.1"/>
<text x="382.8" y="589.1" font-size="9.5" font-weight="bold" text-anchor="middle" fill="#000" stroke="#000" stroke-width="0.2">m+5</text>
<text transform="translate(312 507) rotate(-90)" font-size="10" font-weight="bold" text-anchor="middle" fill="#000" stroke="#000" stroke-width="0.2">Fraction Labeled</text>
</g>
<g>
<text x="446.4" y="437" font-size="19.7" font-weight="bold" text-anchor="start" fill="#1d0c0c" textLength="14.94" lengthAdjust="spacingAndGlyphs">G</text>
<text x="531.6" y="430.2" font-size="10" font-weight="bold" text-anchor="middle" fill="#000" stroke="#000" stroke-width="0.2" >UMP</text>
<rect x="498.15" y="469.3" width="25.8" height="105.6" fill="#e0e0e0" stroke="#000" stroke-width="1.25"/>
<rect x="539.85" y="497.9" width="25.6" height="77" fill="#8080ff" stroke="#000" stroke-width="1.25"/>
<path d="M511.1 463.6V473.6M504.5 463.6H517.7M504.5 473.6H517.7" stroke="#b2b2b2" stroke-width="0.8" fill="none"/>
<path d="M552.4 483.4V510.3M545.8 483.4H559M545.8 510.3H559" stroke="#4444ff" stroke-width="0.8" fill="none"/>
<circle cx="508" cy="464.6" r="1.65" fill="#8b8b90"/>
<circle cx="514.5" cy="467.2" r="1.65" fill="#8b8b90"/>
<circle cx="511.1" cy="474" r="1.65" fill="#8b8b90"/>
<rect x="550.9" y="481.9" width="3" height="3" fill="#1f1fff"/>
<rect x="550.9" y="496" width="3" height="3" fill="#1f1fff"/>
<rect x="550.9" y="508.5" width="3" height="3" fill="#1f1fff"/>
<path d="M483.9 437.1V574.9H580.2" stroke="#111" stroke-width="1.25" fill="none"/>
<path d="M480.2 574.9H483.9" stroke="#000" stroke-width="1.1"/>
<text x="479.4" y="577.5" font-size="7.2" font-weight="bold" text-anchor="end" fill="#000" stroke="#000" stroke-width="0.28">0.0</text>
<path d="M480.2 547.44H483.9" stroke="#000" stroke-width="1.1"/>
<text x="479.4" y="550.04" font-size="7.2" font-weight="bold" text-anchor="end" fill="#000" stroke="#000" stroke-width="0.28">0.2</text>
<path d="M480.2 519.98H483.9" stroke="#000" stroke-width="1.1"/>
<text x="479.4" y="522.58" font-size="7.2" font-weight="bold" text-anchor="end" fill="#000" stroke="#000" stroke-width="0.28">0.4</text>
<path d="M480.2 492.52H483.9" stroke="#000" stroke-width="1.1"/>
<text x="479.4" y="495.12" font-size="7.2" font-weight="bold" text-anchor="end" fill="#000" stroke="#000" stroke-width="0.28">0.6</text>
<path d="M480.2 465.06H483.9" stroke="#000" stroke-width="1.1"/>
<text x="479.4" y="467.66" font-size="7.2" font-weight="bold" text-anchor="end" fill="#000" stroke="#000" stroke-width="0.28">0.8</text>
<path d="M480.2 437.6H483.9" stroke="#000" stroke-width="1.1"/>
<text x="479.4" y="440.2" font-size="7.2" font-weight="bold" text-anchor="end" fill="#000" stroke="#000" stroke-width="0.28">1.0</text>
<path d="M531.6 574.9V578.5" stroke="#262626" stroke-width="1.1"/>
<text x="531.6" y="588.5" font-size="9.5" font-weight="bold" text-anchor="middle" fill="#000" stroke="#000" stroke-width="0.2">m+5</text>
<text transform="translate(460.4 506.5) rotate(-90)" font-size="10" font-weight="bold" text-anchor="middle" fill="#000" stroke="#000" stroke-width="0.2">Fraction Labeled</text>
<path d="M511.1 457.8V452.2H552.4V477.6" stroke="#111" stroke-width="1.1" fill="none"/>
<text x="531.6" y="451.8" font-size="11" font-weight="bold" text-anchor="middle" fill="#000" >*</text>
</g>
<g>
<text x="602.2" y="437" font-size="19.7" font-weight="bold" text-anchor="start" fill="#1d0c0c" textLength="13.86" lengthAdjust="spacingAndGlyphs">H</text>
<text x="689.3" y="432.1" font-size="10" font-weight="bold" text-anchor="middle" fill="#000" stroke="#000" stroke-width="0.2" letter-spacing="0.5">UTP</text>
<rect x="655.85" y="464.7" width="25.8" height="112.3" fill="#e0e0e0" stroke="#000" stroke-width="1.25"/>
<rect x="697.15" y="474" width="25.8" height="103" fill="#8080ff" stroke="#000" stroke-width="1.25"/>
<path d="M668.7 463.2V465.1M662.1 463.2H675.3M662.1 465.1H675.3" stroke="#b2b2b2" stroke-width="0.8" fill="none"/>
<path d="M710.2 468.7V476.8M703.6 468.7H716.8M703.6 476.8H716.8" stroke="#4444ff" stroke-width="0.8" fill="none"/>
<circle cx="666" cy="464.2" r="1.65" fill="#8b8b90"/>
<circle cx="668.7" cy="463.6" r="1.65" fill="#8b8b90"/>
<circle cx="671.6" cy="464.2" r="1.65" fill="#8b8b90"/>
<rect x="708.7" y="466" width="3" height="3" fill="#1f1fff"/>
<rect x="706" y="474.5" width="3" height="3" fill="#1f1fff"/>
<rect x="711.5" y="474" width="3" height="3" fill="#1f1fff"/>
<path d="M641 439V577H737.3" stroke="#111" stroke-width="1.25" fill="none"/>
<path d="M637.3 577H641" stroke="#000" stroke-width="1.1"/>
<text x="636.5" y="579.6" font-size="7.2" font-weight="bold" text-anchor="end" fill="#000" stroke="#000" stroke-width="0.28">0.0</text>
<path d="M637.3 542.62H641" stroke="#000" stroke-width="1.1"/>
<text x="636.5" y="545.23" font-size="7.2" font-weight="bold" text-anchor="end" fill="#000" stroke="#000" stroke-width="0.28">0.2</text>
<path d="M637.3 508.25H641" stroke="#000" stroke-width="1.1"/>
<text x="636.5" y="510.85" font-size="7.2" font-weight="bold" text-anchor="end" fill="#000" stroke="#000" stroke-width="0.28">0.4</text>
<path d="M637.3 473.88H641" stroke="#000" stroke-width="1.1"/>
<text x="636.5" y="476.48" font-size="7.2" font-weight="bold" text-anchor="end" fill="#000" stroke="#000" stroke-width="0.28">0.6</text>
<path d="M637.3 439.5H641" stroke="#000" stroke-width="1.1"/>
<text x="636.5" y="442.1" font-size="7.2" font-weight="bold" text-anchor="end" fill="#000" stroke="#000" stroke-width="0.28">0.8</text>
<path d="M689.3 577V580.6" stroke="#262626" stroke-width="1.1"/>
<text x="689.3" y="590.4" font-size="9.5" font-weight="bold" text-anchor="middle" fill="#000" stroke="#000" stroke-width="0.2">m+5</text>
<text transform="translate(618.1 508.2) rotate(-90)" font-size="10" font-weight="bold" text-anchor="middle" fill="#000" stroke="#000" stroke-width="0.2">Fraction Labeled</text>
<path d="M668.7 456.9V450.7H710.2V462.2" stroke="#111" stroke-width="1.1" fill="none"/>
<text x="689.5" y="449.9" font-size="11" font-weight="bold" text-anchor="middle" fill="#000" >*</text>
</g>
<g>
<text x="0.6" y="622" font-size="19.7" font-weight="bold" text-anchor="start" fill="#1d0c0c" textLength="5.34" lengthAdjust="spacingAndGlyphs">I</text>
<text x="83.9" y="622.2" font-size="10" font-weight="bold" text-anchor="middle" fill="#000" stroke="#000" stroke-width="0.2" letter-spacing="0.5">CTP</text>
<rect x="50.25" y="661.5" width="26.2" height="105.8" fill="#e0e0e0" stroke="#000" stroke-width="1.25"/>
<rect x="91.95" y="689.9" width="26.4" height="77.4" fill="#8080ff" stroke="#000" stroke-width="1.25"/>
<path d="M63.4 649.5V671.7M56.8 649.5H70M56.8 671.7H70" stroke="#b2b2b2" stroke-width="0.8" fill="none"/>
<path d="M104.7 677.9V699.1M98.1 677.9H111.3M98.1 699.1H111.3" stroke="#4444ff" stroke-width="0.8" fill="none"/>
<circle cx="63.4" cy="649.5" r="1.65" fill="#8b8b90"/>
<circle cx="63.4" cy="660" r="1.65" fill="#8b8b90"/>
<circle cx="63.4" cy="671.7" r="1.65" fill="#8b8b90"/>
<rect x="103.2" y="674.9" width="3" height="3" fill="#1f1fff"/>
<rect x="100" y="694.5" width="3" height="3" fill="#1f1fff"/>
<rect x="106.3" y="692.3" width="3" height="3" fill="#1f1fff"/>
<path d="M35.6 629.1V767.3H132.6" stroke="#111" stroke-width="1.25" fill="none"/>
<path d="M31.9 767.3H35.6" stroke="#000" stroke-width="1.1"/>
<text x="31.1" y="769.9" font-size="7.2" font-weight="bold" text-anchor="end" fill="#000" stroke="#000" stroke-width="0.28">0.0</text>
<path d="M31.9 732.88H35.6" stroke="#000" stroke-width="1.1"/>
<text x="31.1" y="735.48" font-size="7.2" font-weight="bold" text-anchor="end" fill="#000" stroke="#000" stroke-width="0.28">0.2</text>
<path d="M31.9 698.45H35.6" stroke="#000" stroke-width="1.1"/>
<text x="31.1" y="701.05" font-size="7.2" font-weight="bold" text-anchor="end" fill="#000" stroke="#000" stroke-width="0.28">0.4</text>
<path d="M31.9 664.02H35.6" stroke="#000" stroke-width="1.1"/>
<text x="31.1" y="666.62" font-size="7.2" font-weight="bold" text-anchor="end" fill="#000" stroke="#000" stroke-width="0.28">0.6</text>
<path d="M31.9 629.6H35.6" stroke="#000" stroke-width="1.1"/>
<text x="31.1" y="632.2" font-size="7.2" font-weight="bold" text-anchor="end" fill="#000" stroke="#000" stroke-width="0.28">0.8</text>
<path d="M84.3 767.3V770.9" stroke="#262626" stroke-width="1.1"/>
<text x="84.3" y="780.5" font-size="9.5" font-weight="bold" text-anchor="middle" fill="#000" stroke="#000" stroke-width="0.2">m+5</text>
<text transform="translate(12.5 698.7) rotate(-90)" font-size="10" font-weight="bold" text-anchor="middle" fill="#000" stroke="#000" stroke-width="0.2">Fraction Labeled</text>
<path d="M63.4 643.9V638.5H104.7V670.2" stroke="#111" stroke-width="1.1" fill="none"/>
<text x="83.9" y="637.6" font-size="11" font-weight="bold" text-anchor="middle" fill="#000" >*</text>
</g>
<g>
<text x="149.4" y="622" font-size="19.7" font-weight="bold" text-anchor="start" fill="#1d0c0c" textLength="10.68" lengthAdjust="spacingAndGlyphs">J</text>
<text x="234" y="620.9" font-size="10" font-weight="bold" text-anchor="middle" fill="#000" stroke="#000" stroke-width="0.2" letter-spacing="0.5">dTTP</text>
<rect x="200.55" y="674.4" width="25.8" height="91.6" fill="#e0e0e0" stroke="#000" stroke-width="1.25"/>
<rect x="242.25" y="713.9" width="25.8" height="52.1" fill="#8080ff" stroke="#000" stroke-width="1.25"/>
<path d="M213.6 645.3V701.6M207 645.3H220.2M207 701.6H220.2" stroke="#b2b2b2" stroke-width="0.8" fill="none"/>
<path d="M254.8 700.3V725.3M248.2 700.3H261.4M248.2 725.3H261.4" stroke="#4444ff" stroke-width="0.8" fill="none"/>
<circle cx="213.6" cy="651" r="1.65" fill="#8b8b90"/>
<circle cx="213.6" cy="664.3" r="1.65" fill="#8b8b90"/>
<circle cx="213.6" cy="705.2" r="1.65" fill="#8b8b90"/>
<rect x="253.3" y="697.3" width="3" height="3" fill="#1f1fff"/>
<rect x="253.3" y="715.8" width="3" height="3" fill="#1f1fff"/>
<rect x="253.3" y="721.5" width="3" height="3" fill="#1f1fff"/>
<path d="M185.2 628.2V766H282.3" stroke="#111" stroke-width="1.25" fill="none"/>
<path d="M181.5 766H185.2" stroke="#000" stroke-width="1.1"/>
<text x="180.7" y="768.6" font-size="7.2" font-weight="bold" text-anchor="end" fill="#000" stroke="#000" stroke-width="0.28">0.0</text>
<path d="M181.5 720.23H185.2" stroke="#000" stroke-width="1.1"/>
<text x="180.7" y="722.83" font-size="7.2" font-weight="bold" text-anchor="end" fill="#000" stroke="#000" stroke-width="0.28">0.2</text>
<path d="M181.5 674.47H185.2" stroke="#000" stroke-width="1.1"/>
<text x="180.7" y="677.07" font-size="7.2" font-weight="bold" text-anchor="end" fill="#000" stroke="#000" stroke-width="0.28">0.4</text>
<path d="M181.5 628.7H185.2" stroke="#000" stroke-width="1.1"/>
<text x="180.7" y="631.3" font-size="7.2" font-weight="bold" text-anchor="end" fill="#000" stroke="#000" stroke-width="0.28">0.6</text>
<path d="M234 766V769.6" stroke="#262626" stroke-width="1.1"/>
<text x="234" y="779.8" font-size="9.5" font-weight="bold" text-anchor="middle" fill="#000" stroke="#000" stroke-width="0.2">m+5</text>
<text transform="translate(162.8 697.5) rotate(-90)" font-size="10" font-weight="bold" text-anchor="middle" fill="#000" stroke="#000" stroke-width="0.2">Fraction Labeled</text>
</g>
<g>
<text x="303.9" y="623" font-size="19.7" font-weight="bold" text-anchor="start" fill="#1d0c0c" textLength="13.86" lengthAdjust="spacingAndGlyphs">K</text>
<text x="381.9" y="622.2" font-size="10" font-weight="bold" text-anchor="middle" fill="#000" stroke="#000" stroke-width="0.2" >IMP</text>
<rect x="349.95" y="653.5" width="25" height="115.7" fill="#e0e0e0" stroke="#000" stroke-width="1.25"/>
<rect x="389.55" y="672.8" width="24.4" height="96.4" fill="#d580f2" stroke="#000" stroke-width="1.25"/>
<path d="M362.5 648.6V656.5M355.9 648.6H369.1M355.9 656.5H369.1" stroke="#b2b2b2" stroke-width="0.8" fill="none"/>
<path d="M401.7 661.8V681.7M395.1 661.8H408.3M395.1 681.7H408.3" stroke="#d04be8" stroke-width="0.8" fill="none"/>
<circle cx="362.5" cy="648.6" r="1.65" fill="#8b8b90"/>
<circle cx="362.5" cy="652.2" r="1.65" fill="#8b8b90"/>
<circle cx="362.5" cy="656.6" r="1.65" fill="#8b8b90"/>
<rect x="400.2" y="661" width="3" height="3" fill="#c21be0"/>
<rect x="400.2" y="668.8" width="3" height="3" fill="#c21be0"/>
<rect x="400.2" y="680.8" width="3" height="3" fill="#c21be0"/>
<path d="M336.4 638V769.2H428.3" stroke="#111" stroke-width="1.25" fill="none"/>
<path d="M332.7 769.2H336.4" stroke="#000" stroke-width="1.1"/>
<text x="331.9" y="771.8" font-size="7.2" font-weight="bold" text-anchor="end" fill="#000" stroke="#000" stroke-width="0.28">0.0</text>
<path d="M332.7 743.06H336.4" stroke="#000" stroke-width="1.1"/>
<text x="331.9" y="745.66" font-size="7.2" font-weight="bold" text-anchor="end" fill="#000" stroke="#000" stroke-width="0.28">0.1</text>
<path d="M332.7 716.92H336.4" stroke="#000" stroke-width="1.1"/>
<text x="331.9" y="719.52" font-size="7.2" font-weight="bold" text-anchor="end" fill="#000" stroke="#000" stroke-width="0.28">0.2</text>
<path d="M332.7 690.78H336.4" stroke="#000" stroke-width="1.1"/>
<text x="331.9" y="693.38" font-size="7.2" font-weight="bold" text-anchor="end" fill="#000" stroke="#000" stroke-width="0.28">0.3</text>
<path d="M332.7 664.64H336.4" stroke="#000" stroke-width="1.1"/>
<text x="331.9" y="667.24" font-size="7.2" font-weight="bold" text-anchor="end" fill="#000" stroke="#000" stroke-width="0.28">0.4</text>
<path d="M332.7 638.5H336.4" stroke="#000" stroke-width="1.1"/>
<text x="331.9" y="641.1" font-size="7.2" font-weight="bold" text-anchor="end" fill="#000" stroke="#000" stroke-width="0.28">0.5</text>
<path d="M381.9 769.2V772.8" stroke="#262626" stroke-width="1.1"/>
<text x="381.9" y="782" font-size="9.5" font-weight="bold" text-anchor="middle" fill="#000" stroke="#000" stroke-width="0.2">m+5</text>
<text transform="translate(313.99 704) rotate(-90)" font-size="9.7" font-weight="bold" text-anchor="middle" fill="#000" stroke="#000" stroke-width="0.2">Fraction Labeled</text>
<path d="M362 642.8V638H401.7V656.3" stroke="#111" stroke-width="1.1" fill="none"/>
<text x="381.9" y="637.8" font-size="11" font-weight="bold" text-anchor="middle" fill="#000" >*</text>
</g>
<g>
<text x="446.45" y="623" font-size="19.7" font-weight="bold" text-anchor="start" fill="#1d0c0c" textLength="11.73" lengthAdjust="spacingAndGlyphs">L</text>
<text x="528.8" y="620.9" font-size="10" font-weight="bold" text-anchor="middle" fill="#000" stroke="#000" stroke-width="0.2" >AMP</text>
<rect x="496.65" y="653.9" width="25.2" height="112.7" fill="#e0e0e0" stroke="#000" stroke-width="1.25"/>
<rect x="536.95" y="677" width="24.7" height="89.6" fill="#d580f2" stroke="#000" stroke-width="1.25"/>
<path d="M509.2 647.2V658.4M502.6 647.2H515.8M502.6 658.4H515.8" stroke="#b2b2b2" stroke-width="0.8" fill="none"/>
<path d="M549.4 674.7V677M542.8 674.7H556M542.8 677H556" stroke="#d04be8" stroke-width="0.8" fill="none"/>
<circle cx="509.2" cy="647" r="1.65" fill="#8b8b90"/>
<circle cx="509.2" cy="658" r="1.65" fill="#8b8b90"/>
<circle cx="509.2" cy="655" r="1.65" fill="#8b8b90"/>
<rect x="542.5" y="676" width="3" height="3" fill="#c21be0"/>
<rect x="548" y="674" width="3" height="3" fill="#c21be0"/>
<rect x="553.5" y="674" width="3" height="3" fill="#c21be0"/>
<path d="M481.8 633.3V766.6H576" stroke="#111" stroke-width="1.25" fill="none"/>
<path d="M478.1 766.6H481.8" stroke="#000" stroke-width="1.1"/>
<text x="477.3" y="769.2" font-size="7.2" font-weight="bold" text-anchor="end" fill="#000" stroke="#000" stroke-width="0.28">0.0</text>
<path d="M478.1 722.33H481.8" stroke="#000" stroke-width="1.1"/>
<text x="477.3" y="724.93" font-size="7.2" font-weight="bold" text-anchor="end" fill="#000" stroke="#000" stroke-width="0.28">0.2</text>
<path d="M478.1 678.07H481.8" stroke="#000" stroke-width="1.1"/>
<text x="477.3" y="680.67" font-size="7.2" font-weight="bold" text-anchor="end" fill="#000" stroke="#000" stroke-width="0.28">0.4</text>
<path d="M478.1 633.8H481.8" stroke="#000" stroke-width="1.1"/>
<text x="477.3" y="636.4" font-size="7.2" font-weight="bold" text-anchor="end" fill="#000" stroke="#000" stroke-width="0.28">0.6</text>
<path d="M528.8 766.6V770.2" stroke="#262626" stroke-width="1.1"/>
<text x="528.8" y="780.2" font-size="9.5" font-weight="bold" text-anchor="middle" fill="#000" stroke="#000" stroke-width="0.2">m+5</text>
<text transform="translate(459.73 700.3) rotate(-90)" font-size="9.8" font-weight="bold" text-anchor="middle" fill="#000" stroke="#000" stroke-width="0.2">Fraction Labeled</text>
<path d="M508.9 641.9V634.8H549.6V666.8" stroke="#111" stroke-width="1.1" fill="none"/>
<text x="529.1" y="634.4" font-size="11" font-weight="bold" text-anchor="middle" fill="#000" >*</text>
</g>
<g>
<text x="592.5" y="623" font-size="19.7" font-weight="bold" text-anchor="start" fill="#1d0c0c" textLength="15.99" lengthAdjust="spacingAndGlyphs">M</text>
<text x="675.9" y="621.5" font-size="10" font-weight="bold" text-anchor="middle" fill="#000" stroke="#000" stroke-width="0.2" >ATP</text>
<rect x="642.45" y="664.9" width="26.2" height="101.5" fill="#e0e0e0" stroke="#000" stroke-width="1.25"/>
<rect x="683.75" y="681" width="26" height="85.4" fill="#d580f2" stroke="#000" stroke-width="1.25"/>
<path d="M655.5 660.3V667.5M648.9 660.3H662.1M648.9 667.5H662.1" stroke="#b2b2b2" stroke-width="0.8" fill="none"/>
<path d="M696.7 677.9V681.1M690.1 677.9H703.3M690.1 681.1H703.3" stroke="#d04be8" stroke-width="0.8" fill="none"/>
<circle cx="655.5" cy="660.5" r="1.65" fill="#8b8b90"/>
<circle cx="655.5" cy="667.5" r="1.65" fill="#8b8b90"/>
<circle cx="655.5" cy="664.5" r="1.65" fill="#8b8b90"/>
<rect x="692.5" y="679" width="3" height="3" fill="#c21be0"/>
<rect x="695.5" y="676.5" width="3" height="3" fill="#c21be0"/>
<rect x="698.5" y="679" width="3" height="3" fill="#c21be0"/>
<path d="M627.6 628.6V766.4H724.1" stroke="#111" stroke-width="1.25" fill="none"/>
<path d="M623.9 766.4H627.6" stroke="#000" stroke-width="1.1"/>
<text x="623.1" y="769" font-size="7.2" font-weight="bold" text-anchor="end" fill="#000" stroke="#000" stroke-width="0.28">0.0</text>
<path d="M623.9 732.08H627.6" stroke="#000" stroke-width="1.1"/>
<text x="623.1" y="734.68" font-size="7.2" font-weight="bold" text-anchor="end" fill="#000" stroke="#000" stroke-width="0.28">0.2</text>
<path d="M623.9 697.75H627.6" stroke="#000" stroke-width="1.1"/>
<text x="623.1" y="700.35" font-size="7.2" font-weight="bold" text-anchor="end" fill="#000" stroke="#000" stroke-width="0.28">0.4</text>
<path d="M623.9 663.42H627.6" stroke="#000" stroke-width="1.1"/>
<text x="623.1" y="666.02" font-size="7.2" font-weight="bold" text-anchor="end" fill="#000" stroke="#000" stroke-width="0.28">0.6</text>
<path d="M623.9 629.1H627.6" stroke="#000" stroke-width="1.1"/>
<text x="623.1" y="631.7" font-size="7.2" font-weight="bold" text-anchor="end" fill="#000" stroke="#000" stroke-width="0.28">0.8</text>
<path d="M675.9 766.4V770" stroke="#262626" stroke-width="1.1"/>
<text x="675.9" y="779.8" font-size="9.5" font-weight="bold" text-anchor="middle" fill="#000" stroke="#000" stroke-width="0.2">m+5</text>
<text transform="translate(604.7 697.8) rotate(-90)" font-size="10" font-weight="bold" text-anchor="middle" fill="#000" stroke="#000" stroke-width="0.2">Fraction Labeled</text>
<path d="M655.5 651V645.2H696.7V671.5" stroke="#111" stroke-width="1.1" fill="none"/>
<text x="676.3" y="644.8" font-size="11" font-weight="bold" text-anchor="middle" fill="#000" >*</text>
</g>
<g>
<text x="0.5" y="811" font-size="19.7" font-weight="bold" text-anchor="start" fill="#1d0c0c" textLength="13.86" lengthAdjust="spacingAndGlyphs">N</text>
<text x="92.8" y="812.1" font-size="10" font-weight="bold" text-anchor="middle" fill="#000" stroke="#000" stroke-width="0.2" >UDP</text>
<rect x="58.95" y="877.9" width="26" height="79.3" fill="#e0e0e0" stroke="#000" stroke-width="1.25"/>
<rect x="100.45" y="930.9" width="25.8" height="26.3" fill="#d580f2" stroke="#000" stroke-width="1.25"/>
<path d="M72 855.1V898.5M65.4 855.1H78.6M65.4 898.5H78.6" stroke="#b2b2b2" stroke-width="0.8" fill="none"/>
<path d="M113.3 923.3V936.4M106.7 923.3H119.9M106.7 936.4H119.9" stroke="#d04be8" stroke-width="0.8" fill="none"/>
<circle cx="69.3" cy="864" r="1.65" fill="#8b8b90"/>
<circle cx="75.5" cy="864.5" r="1.65" fill="#8b8b90"/>
<circle cx="72" cy="902" r="1.65" fill="#8b8b90"/>
<rect x="111.8" y="922.5" width="3" height="3" fill="#c21be0"/>
<rect x="111.8" y="927.5" width="3" height="3" fill="#c21be0"/>
<rect x="111.8" y="935.5" width="3" height="3" fill="#c21be0"/>
<path d="M44.1 819.6V957.2H140.9" stroke="#111" stroke-width="1.25" fill="none"/>
<path d="M40.4 957.2H44.1" stroke="#000" stroke-width="1.1"/>
<text x="39.6" y="959.8" font-size="7.2" font-weight="bold" text-anchor="end" fill="#000" stroke="#000" stroke-width="0.28">0.00</text>
<path d="M40.4 911.5H44.1" stroke="#000" stroke-width="1.1"/>
<text x="39.6" y="914.1" font-size="7.2" font-weight="bold" text-anchor="end" fill="#000" stroke="#000" stroke-width="0.28">0.05</text>
<path d="M40.4 865.8H44.1" stroke="#000" stroke-width="1.1"/>
<text x="39.6" y="868.4" font-size="7.2" font-weight="bold" text-anchor="end" fill="#000" stroke="#000" stroke-width="0.28">0.10</text>
<path d="M40.4 820.1H44.1" stroke="#000" stroke-width="1.1"/>
<text x="39.6" y="822.7" font-size="7.2" font-weight="bold" text-anchor="end" fill="#000" stroke="#000" stroke-width="0.28">0.15</text>
<path d="M92.8 957.2V960.8" stroke="#262626" stroke-width="1.1"/>
<text x="92.8" y="970.4" font-size="9.5" font-weight="bold" text-anchor="middle" fill="#000" stroke="#000" stroke-width="0.2">m+5</text>
<text transform="translate(19.7 888.5) rotate(-90)" font-size="10" font-weight="bold" text-anchor="middle" fill="#000" stroke="#000" stroke-width="0.2">Fraction Labeled</text>
<path d="M72 849.4V843.6H113.3V917.2" stroke="#111" stroke-width="1.1" fill="none"/>
<text x="92.8" y="843.6" font-size="11" font-weight="bold" text-anchor="middle" fill="#000" >*</text>
</g>
<g>
<text x="145.5" y="811" font-size="19.7" font-weight="bold" text-anchor="start" fill="#1d0c0c" textLength="14.94" lengthAdjust="spacingAndGlyphs">O</text>
<text x="235.9" y="813.3" font-size="10" font-weight="bold" text-anchor="middle" fill="#000" stroke="#000" stroke-width="0.2" letter-spacing="0.5">UTP</text>
<rect x="201.95" y="883" width="26.3" height="75.2" fill="#e0e0e0" stroke="#000" stroke-width="1.25"/>
<rect x="243.75" y="929.4" width="25.6" height="28.8" fill="#d580f2" stroke="#000" stroke-width="1.25"/>
<path d="M215.5 856.4V907.2M208.9 856.4H222.1M208.9 907.2H222.1" stroke="#b2b2b2" stroke-width="0.8" fill="none"/>
<path d="M256.7 926.1V929.7M250.1 926.1H263.3M250.1 929.7H263.3" stroke="#d04be8" stroke-width="0.8" fill="none"/>
<circle cx="215.3" cy="853" r="1.65" fill="#8b8b90"/>
<circle cx="212.3" cy="897.5" r="1.65" fill="#8b8b90"/>
<circle cx="218.3" cy="895.5" r="1.65" fill="#8b8b90"/>
<rect x="255.2" y="924.5" width="3" height="3" fill="#c21be0"/>
<rect x="252" y="928.5" width="3" height="3" fill="#c21be0"/>
<rect x="258.5" y="928" width="3" height="3" fill="#c21be0"/>
<path d="M187.2 820.5V958.2H284.2" stroke="#111" stroke-width="1.25" fill="none"/>
<path d="M183.5 958.2H187.2" stroke="#000" stroke-width="1.1"/>
<text x="182.7" y="960.8" font-size="7.2" font-weight="bold" text-anchor="end" fill="#000" stroke="#000" stroke-width="0.28">0.00</text>
<path d="M183.5 912.47H187.2" stroke="#000" stroke-width="1.1"/>
<text x="182.7" y="915.07" font-size="7.2" font-weight="bold" text-anchor="end" fill="#000" stroke="#000" stroke-width="0.28">0.05</text>
<path d="M183.5 866.73H187.2" stroke="#000" stroke-width="1.1"/>
<text x="182.7" y="869.33" font-size="7.2" font-weight="bold" text-anchor="end" fill="#000" stroke="#000" stroke-width="0.28">0.10</text>
<path d="M183.5 821H187.2" stroke="#000" stroke-width="1.1"/>
<text x="182.7" y="823.6" font-size="7.2" font-weight="bold" text-anchor="end" fill="#000" stroke="#000" stroke-width="0.28">0.15</text>
<path d="M235.9 958.2V961.8" stroke="#262626" stroke-width="1.1"/>
<text x="235.9" y="971.6" font-size="9.5" font-weight="bold" text-anchor="middle" fill="#000" stroke="#000" stroke-width="0.2">m+5</text>
<text transform="translate(162.8 889.4) rotate(-90)" font-size="10" font-weight="bold" text-anchor="middle" fill="#000" stroke="#000" stroke-width="0.2">Fraction Labeled</text>
<path d="M215.1 847.5V841.7H256.7V920.1" stroke="#111" stroke-width="1.1" fill="none"/>
<text x="236.3" y="840.7" font-size="11" font-weight="bold" text-anchor="middle" fill="#000" >*</text>
</g>
</svg></body></html>
